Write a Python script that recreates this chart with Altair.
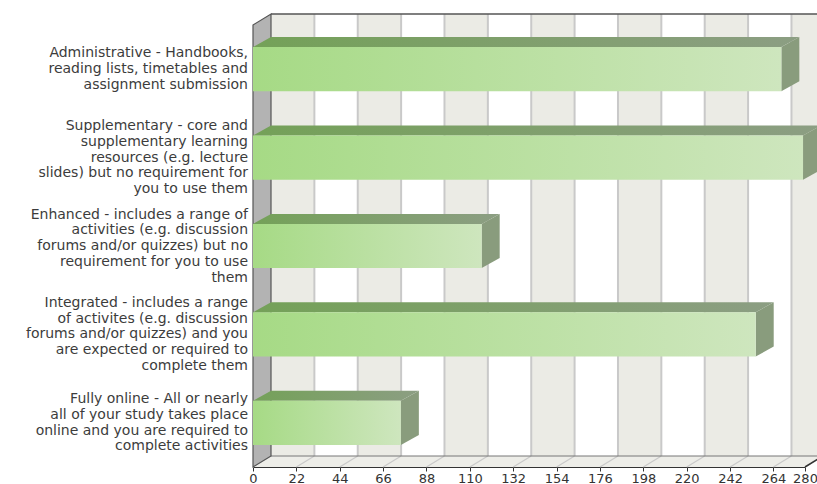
import altair as alt
import pandas as pd

# ---------------- data ----------------
categories = [
    "Administrative - Handbooks,\nreading lists, timetables and\nassignment submission",
    "Supplementary - core and\nsupplementary learning\nresources (e.g. lecture\nslides) but no requirement for\nyou to use them",
    "Enhanced - includes a range of\nactivities (e.g. discussion\nforums and/or quizzes) but no\nrequirement for you to use\nthem",
    "Integrated - includes a range\nof activites (e.g. discussion\nforums and/or quizzes) and you\nare expected or required to\ncomplete them",
    "Fully online - All or nearly\nall of your study takes place\nonline and you are required to\ncomplete activities",
]
values = [268, 279, 116, 255, 75]
x_ticks = [0, 22, 44, 66, 88, 110, 132, 154, 176, 198, 220, 242, 264, 280]

# ---------------- layout / style ----------------
X_MAX = 280
N = len(categories)
W, H = 552, 442
PAD = {"left": 253, "top": 25, "right": 12, "bottom": 17}
ux = X_MAX / W          # data units per pixel (x)
uy = N / H              # data units per pixel (y)
wdx, wdy = 18 * ux, 11 * uy   # wall depth
bdx, bdy = 18 * ux, 10 * uy   # bar depth
BAR_HALF = 0.25
LINE_H = 15.75

FONT = "DejaVu Sans"
STRIPE_COLORS = ["#ebebe5", "#ffffff"]

xs = alt.Scale(domain=[0, X_MAX], nice=False, zero=False)
ys = alt.Scale(domain=[0, N], reverse=True, nice=False, zero=False)
xax = alt.Axis(values=x_ticks, title=None, grid=False, labelFontSize=13, labelFont=FONT,
               labelColor="#333333", tickColor="#333333", tickSize=4, domainColor="#333333",
               labelPadding=1, labelOverlap=False, labelFlush=False, labelBound=False, format="d")


def skew_quad(pid, x0, x1, y_front, dx, dy):
    return [
        dict(id=pid, x=x0, top=y_front, bot=y_front),
        dict(id=pid, x=x0 + dx, top=y_front - dy, bot=y_front),
        dict(id=pid, x=x1, top=y_front - dy, bot=y_front),
        dict(id=pid, x=x1 + dx, top=y_front - dy, bot=y_front - dy),
    ]


def side_quad(pid, x0, ytop, ybot, dx, dy):
    return [
        dict(id=pid, x=x0, top=ytop, bot=ybot),
        dict(id=pid, x=x0 + dx, top=ytop - dy, bot=ybot - dy),
    ]


def grad(c0, c1):
    return alt.Gradient(gradient="linear",
                        stops=[alt.GradientStop(color=c0, offset=0),
                               alt.GradientStop(color=c1, offset=1)],
                        x1=0, x2=1, y1=0, y2=0)


def area_layer(df, **mk):
    return alt.Chart(df).mark_area(orient="vertical", **mk).encode(
        x=alt.X("x:Q", scale=xs, axis=xax),
        y=alt.Y("top:Q", scale=ys, axis=None),
        y2="bot:Q",
        detail="id:N",
    )


# ---------------- back wall ----------------
edges = x_ticks
stripes = pd.DataFrame({
    "a": [e + wdx for e in edges[:-1]],
    "b": [e + wdx for e in edges[1:]],
    "t": [-wdy] * (len(edges) - 1),
    "btm": [N - wdy] * (len(edges) - 1),
    "c": [STRIPE_COLORS[i % 2] for i in range(len(edges) - 1)],
})
wall = alt.Chart(stripes).mark_rect().encode(
    x=alt.X("a:Q", scale=xs, axis=xax), x2="b:Q",
    y=alt.Y("t:Q", scale=ys, axis=None), y2="btm:Q",
    color=alt.Color("c:N", scale=None, legend=None),
)
grid_df = pd.DataFrame({"gx": [e + wdx for e in edges[1:]], "t": -wdy, "btm": N - wdy})
grid = alt.Chart(grid_df).mark_rule(color="#c9c9c9", strokeWidth=2).encode(
    x=alt.X("gx:Q", scale=xs, axis=xax),
    y=alt.Y("t:Q", scale=ys, axis=None), y2="btm:Q",
)
top_edge_df = pd.DataFrame({"a": [wdx], "b": [X_MAX + wdx], "t": [-wdy]})
top_edge = alt.Chart(top_edge_df).mark_rule(color="#555555", strokeWidth=1.5).encode(
    x=alt.X("a:Q", scale=xs, axis=xax), x2="b:Q",
    y=alt.Y("t:Q", scale=ys, axis=None),
)

# ---------------- floor ----------------
floor_df = pd.DataFrame(skew_quad("floor", 0, X_MAX, N, wdx, wdy))
floor = area_layer(floor_df, color="#ededE8")
diag_df = pd.DataFrame({"a": edges, "b": [e + wdx for e in edges], "f": N, "bk": N - wdy})
diag = alt.Chart(diag_df).mark_rule(color="#c9c9c9", strokeWidth=1.2).encode(
    x=alt.X("a:Q", scale=xs, axis=xax), x2="b:Q",
    y=alt.Y("f:Q", scale=ys, axis=None), y2="bk:Q",
)
floor_back_df = pd.DataFrame({"a": [wdx], "b": [X_MAX + wdx], "t": [N - wdy]})
floor_back = alt.Chart(floor_back_df).mark_rule(color="#777777", strokeWidth=1).encode(
    x=alt.X("a:Q", scale=xs, axis=xax), x2="b:Q",
    y=alt.Y("t:Q", scale=ys, axis=None),
)
floor_right_df = pd.DataFrame({"a": [X_MAX], "b": [X_MAX + wdx], "f": [N], "bk": [N - wdy]})
floor_right = alt.Chart(floor_right_df).mark_rule(color="#333333", strokeWidth=1.5).encode(
    x=alt.X("a:Q", scale=xs, axis=xax), x2="b:Q",
    y=alt.Y("f:Q", scale=ys, axis=None), y2="bk:Q",
)

# ---------------- left wall ----------------
lw_df = pd.DataFrame(side_quad("lw", 0, 0, N, wdx, wdy))
left_wall = area_layer(lw_df, color="#b3b3b3", stroke="#555555", strokeWidth=1.2)

# ---------------- bars ----------------
tops, sides = [], []
for i, v in enumerate(values):
    yt = i + 0.5 - BAR_HALF
    yb = i + 0.5 + BAR_HALF
    tops += skew_quad(f"b{i}", 0, v, yt, bdx, bdy)
    sides += side_quad(f"b{i}", v, yt, yb, bdx, bdy)
bar_top = area_layer(pd.DataFrame(tops), color=grad("#74a158", "#8c9e83"))
bar_side = area_layer(pd.DataFrame(sides), color="#899c7d")

front_df = pd.DataFrame({
    "zero": [0] * N,
    "v": values,
    "y0": [i + 0.5 - BAR_HALF for i in range(N)],
    "y1": [i + 0.5 + BAR_HALF for i in range(N)],
})
bar_front = alt.Chart(front_df).mark_rect(color=grad("#a6da85", "#cee6be")).encode(
    x=alt.X("zero:Q", scale=xs, axis=xax), x2="v:Q",
    y=alt.Y("y0:Q", scale=ys, axis=None), y2="y1:Q",
)

# ---------------- category labels (multi-line block centred on each bar) ----------------
lab_df = pd.DataFrame({
    "label": categories,
    "yc": [i + 0.5 - (c.count("\n") / 2) * LINE_H * uy for i, c in enumerate(categories)],
})
labels = alt.Chart(lab_df).mark_text(
    align="right", baseline="middle", dx=-5, lineBreak="\n", font=FONT,
    fontSize=14, lineHeight=LINE_H, color="#3c3c3c",
).encode(
    x=alt.value(0),
    y=alt.Y("yc:Q", scale=ys, axis=None),
    text="label:N",
)

chart = alt.layer(
    wall, grid, top_edge, floor, diag, floor_back, floor_right, left_wall,
    bar_top, bar_side, bar_front, labels,
).properties(
    width=W, height=H,
    autosize=alt.AutoSizeParams(type="none"),
    padding=PAD,
    background="white",
).configure_view(stroke=None)

chart.save("out.html", embed_options={"renderer": "svg", "actions": False})
